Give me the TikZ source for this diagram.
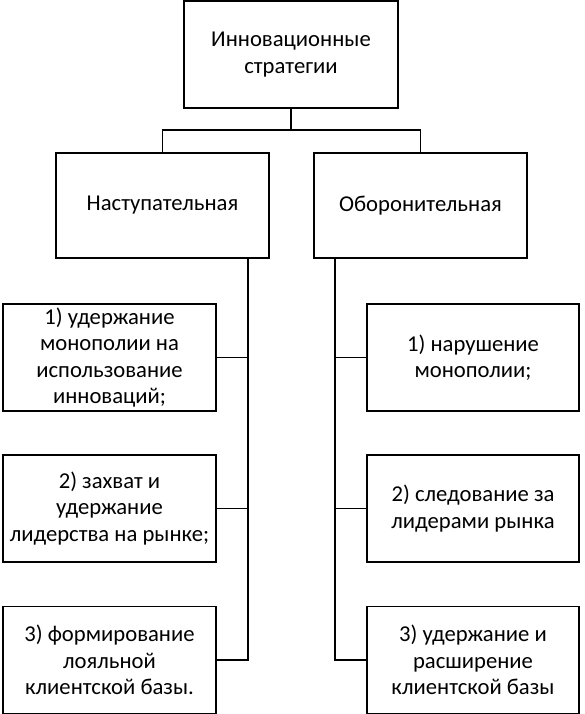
\documentclass[tikz,border=0pt]{standalone}
\usepackage{fontspec}
\setmainfont{Carlito}
\begin{document}
\begin{tikzpicture}[x=0.75pt,y=-0.75pt,
  box/.style={draw=black,line width=1.4pt,align=center,inner sep=0pt,
    font=\fontsize{17}{19.9}\selectfont},
  bx/.style 2 args={box,minimum width=#1*0.75pt,minimum height=#2*0.75pt},
  link/.style={draw=black,line width=1.4pt}]
\useasboundingbox (0,0) rectangle (585,714);
\node[bx={214}{107}] (top) at (291,54.5) {Инновационные\\стратегии};
\node[bx={213}{105}] (L) at (162.5,205.5) {Наступательная};
\node[bx={213}{105}] (R) at (420.5,205.5) {Оборонительная};
\node[bx={213}{107}] (l1) at (109.5,357.5) {1) удержание\\монополии на\\использование\\инноваций;};
\node[bx={213}{107}] (l2) at (109.5,508.5) {2) захват и\\удержание\\лидерства на рынке;};
\node[bx={213}{107}] (l3) at (109.5,660) {3) формирование\\лояльной\\клиентской базы.};
\node[bx={212}{107}] (r1) at (473,357.5) {1) нарушение\\монополии;};
\node[bx={212}{107}] (r2) at (473,508.5) {2) следование за\\лидерами рынка};
\node[bx={212}{107}] (r3) at (473,660) {3) удержание и\\расширение\\клиентской базы};
\coordinate (j) at (291,130);
\coordinate (lt) at (248,258);
\coordinate (rt) at (335,258);
\draw[link,line width=2pt] (top.south) -- (j);
\draw[link] (L.north) |- (j) -| (R.north);
\draw[link] (lt) |- (l3.east);
\draw[link] (l1.east) -- (l1.east -| lt);
\draw[link] (l2.east) -- (l2.east -| lt);
\draw[link] (rt) |- (r3.west);
\draw[link] (r1.west) -- (r1.west -| rt);
\draw[link] (r2.west) -- (r2.west -| rt);
\end{tikzpicture}
\end{document}
